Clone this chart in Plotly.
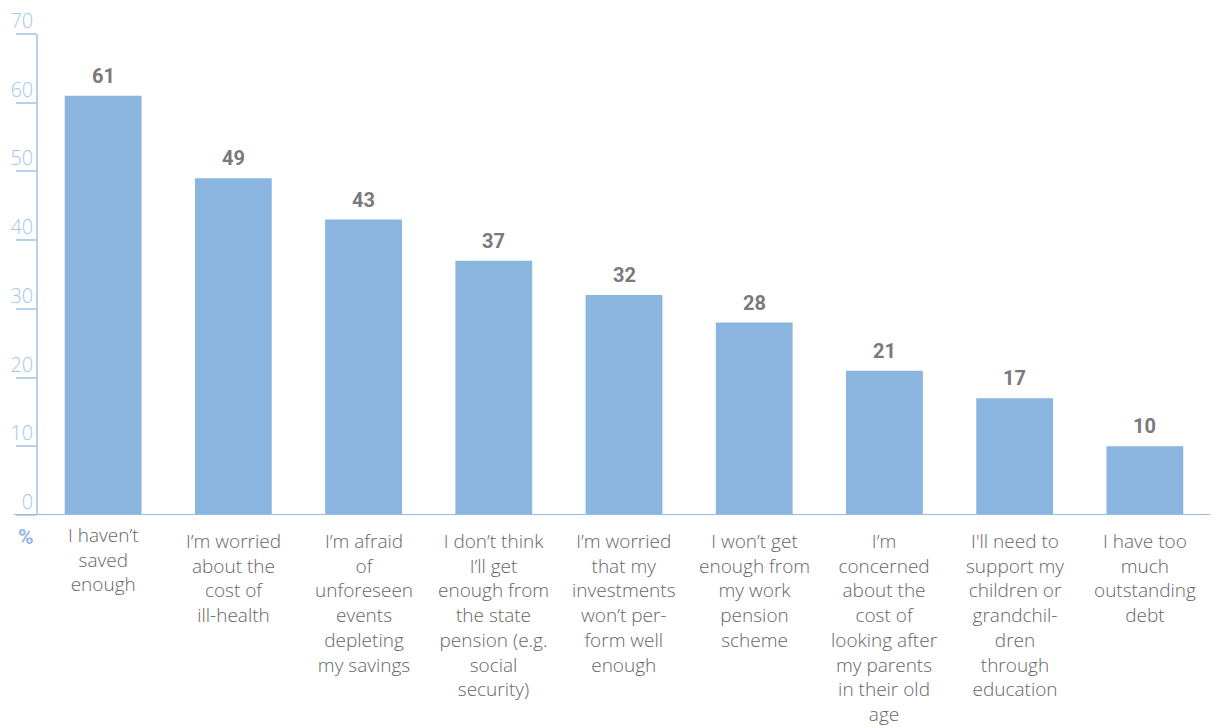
import plotly.graph_objects as go

categories = [
    "I haven’t<br>saved<br>enough",
    "I’m worried<br>about the<br>cost of<br>ill-health",
    "I’m afraid<br>of<br>unforeseen<br>events<br>depleting<br>my savings",
    "I don’t think<br>I’ll get<br>enough from<br>the state<br>pension (e.g.<br>social<br>security)",
    "I’m worried<br>that my<br>investments<br>won’t per-<br>form well<br>enough",
    "I won’t get<br>enough from<br>my work<br>pension<br>scheme",
    "I’m<br>concerned<br>about the<br>cost of<br>looking after<br>my parents<br>in their old<br>age",
    "I'll need to<br>support my<br>children or<br>grandchil-<br>dren<br>through<br>education",
    "I have too<br>much<br>outstanding<br>debt",
]
values = [61, 49, 43, 37, 32, 28, 21, 17, 10]
y_ticks = [0, 10, 20, 30, 40, 50, 60, 70]

BAR = "#89b5df"
AXIS = "#b7d1ec"
TICKTXT = "#a6c6e8"
GRAY_LBL = "#7a7a7a"
CAT_TXT = "#666666"

fig = go.Figure()
fig.add_trace(go.Bar(
    x=list(range(len(categories))), y=values,
    marker=dict(color=BAR, line=dict(width=0)),
    hoverinfo="skip",
))

for i, v in enumerate(values):
    fig.add_annotation(
        x=i, y=v, text=f"<b>{v}</b>", showarrow=False,
        yanchor="bottom", yshift=6,
        font=dict(family="Roboto", size=20, color=GRAY_LBL),
    )

# category labels below the baseline
for i, cat in enumerate(categories):
    lift = 6 if i == 0 else 0
    fig.add_annotation(
        x=i, y=0, text=cat, showarrow=False,
        yanchor="top", xanchor="center", align="center", borderpad=0,
        yshift=-(11.5 - lift),
        font=dict(family="Open Sans", size=19, color=CAT_TXT, weight=300),
    )

# thick baseline
fig.add_shape(
    type="rect", xref="paper", yref="y",
    x0=-24 / 1172, x1=1.0,
    ysizemode="pixel", yanchor=0, y0=-4, y1=1,
    line=dict(width=0), fillcolor="#93bbe3", layer="above",
)

fig.add_annotation(
    xref="paper", yref="y", x=-12 / 1172, y=0, yshift=-22,
    xanchor="center", yanchor="middle",
    text="<b>%</b>", showarrow=False,
    font=dict(family="Roboto", size=21, color="#8fb8e2"),
)

fig.update_layout(
    width=1222, height=728,
    margin=dict(l=38, r=12, t=34, b=213, autoexpand=False),
    paper_bgcolor="white", plot_bgcolor="white",
    bargap=0.41, showlegend=False,
    font=dict(family="Open Sans"),
)
fig.update_xaxes(
    range=[-0.5, len(categories) - 0.5],
    showticklabels=False,
    showline=False, showgrid=False, zeroline=False, ticks="",
    automargin=False,
)
fig.update_yaxes(
    range=[0, 70], tickvals=y_ticks, automargin=False,
    showline=True, linecolor=AXIS, linewidth=1.5,
    ticks="outside", ticklen=20, tickcolor=AXIS, tickwidth=1.5,
    showgrid=False, zeroline=False,
    ticklabelshift=-13, ticklabelstandoff=-21,
    tickfont=dict(family="Open Sans", size=20, color=TICKTXT, weight=300),
)

fig.write_html(
    "out.html",
    config={"displayModeBar": False},
    post_script="document.body.style.margin='0';",
)
